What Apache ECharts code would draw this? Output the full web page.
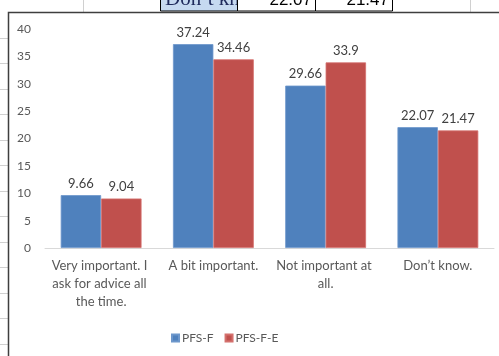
<!DOCTYPE html>
<html>
<head>
<meta charset="utf-8">
<script src="https://cdn.jsdelivr.net/npm/echarts@6/dist/echarts.min.js"></script>
<style>
  html, body { margin: 0; padding: 0; background: #fff; }
  #chart { width: 499px; height: 356px; }
</style>
</head>
<body>
<div id="chart"></div>
<script>
// Survey responses: how important is asking for advice
const categories = [
  'Very important. I ask for advice all the time.',
  'A bit important.',
  'Not important at all.',
  'Don\u2019t know.'
];
const seriesNames = ['PFS-F', 'PFS-F-E'];
const pfsF = [9.66, 37.24, 29.66, 22.07];
const pfsFE = [9.04, 34.46, 33.9, 21.47];
const yTicks = { min: 0, max: 40, step: 5 };

const FONT = 'Lato, "Open Sans", sans-serif';

// Worksheet cells peeking around the chart frame
const sheet = [];
const gridGray = '#d0d0d0';
for (let k = 1; k <= 13; k++) {
  const y = Math.round(12 + 25.5 * k) + 0.5;
  sheet.push({ type: 'line', shape: { x1: 0, y1: y, x2: 8, y2: y }, style: { stroke: gridGray, lineWidth: 1 }, silent: true });
}
[83.5, 470.5].forEach(x => {
  sheet.push({ type: 'line', shape: { x1: x, y1: 0, x2: x, y2: 12 }, style: { stroke: gridGray, lineWidth: 1 }, silent: true });
});
sheet.push({ type: 'rect', shape: { x: 160.5, y: -2, width: 77, height: 13 }, style: { fill: '#c6d9f0', stroke: '#000', lineWidth: 1 }, silent: true });
sheet.push({ type: 'rect', shape: { x: 237.5, y: -2, width: 78, height: 13 }, style: { fill: '#fff', stroke: '#000', lineWidth: 1 }, silent: true });
sheet.push({ type: 'rect', shape: { x: 315.5, y: -2, width: 77, height: 13 }, style: { fill: '#fff', stroke: '#000', lineWidth: 1 }, silent: true });
sheet.push({
  type: 'group', silent: true,
  clipPath: { type: 'rect', shape: { x: 161, y: 0, width: 76, height: 11 } },
  children: [{ type: 'text', x: 165, y: 10, style: { text: 'Don\u2019t know', font: '21px "Liberation Serif", serif', fill: '#1f2a5c', textVerticalAlign: 'bottom' } }]
});
sheet.push({ type: 'text', silent: true, x: 312, y: 9, style: { text: '22.07', font: '17px "Liberation Sans", sans-serif', fill: '#000', textAlign: 'right', textVerticalAlign: 'bottom' } });
sheet.push({ type: 'text', silent: true, x: 389, y: 9, style: { text: '21.47', font: '17px "Liberation Sans", sans-serif', fill: '#000', textAlign: 'right', textVerticalAlign: 'bottom' } });
// Chart frame edges
sheet.push({ type: 'polyline', silent: true, shape: { points: [[8.5, 356], [8.5, 12.5], [499, 12.5]] }, style: { stroke: '#3f3f3f', lineWidth: 1.5, fill: null } });

const labelStyle = {
  show: true, position: 'top', distance: 5,
  fontFamily: FONT, fontSize: 13, color: '#404040'
};

const chart = echarts.init(document.getElementById('chart'), null, { renderer: 'canvas' });
chart.setOption({
  animation: false,
  backgroundColor: '#ffffff',
  textStyle: { fontFamily: FONT },
  color: ['#4f81bd', '#c0504d'],
  grid: { left: 45, right: 5, top: 29, bottom: 108 },
  legend: {
    data: seriesNames,
    left: 166, top: 327,
    icon: 'rect', itemWidth: 7, itemHeight: 7, itemGap: 11,
    textStyle: { fontFamily: FONT, fontSize: 12, color: '#595959', padding: [0, 0, 0, -2] }
  },
  xAxis: {
    type: 'category',
    data: categories,
    axisLine: { lineStyle: { color: '#d9d9d9', width: 1 } },
    axisTick: { show: false },
    axisLabel: {
      interval: 0, margin: 9,
      fontFamily: FONT, fontSize: 13, color: '#595959',
      lineHeight: 18, width: 104, overflow: 'break', align: 'center'
    }
  },
  yAxis: {
    type: 'value',
    min: yTicks.min, max: yTicks.max, interval: yTicks.step,
    axisLine: { show: false },
    axisTick: { show: false },
    splitLine: { show: false },
    axisLabel: { margin: 14, fontFamily: FONT, fontSize: 12, color: '#595959' }
  },
  series: [
    {
      name: seriesNames[0], type: 'bar', data: pfsF,
      barGap: '0%', barCategoryGap: '28%',
      itemStyle: { color: '#4f81bd', borderColor: '#6d97cb', borderWidth: 0.8 },
      label: labelStyle
    },
    {
      name: seriesNames[1], type: 'bar', data: pfsFE,
      barGap: '0%', barCategoryGap: '28%',
      itemStyle: { color: '#c0504d', borderColor: '#d4706d', borderWidth: 0.8 },
      label: labelStyle
    }
  ],
  graphic: sheet
});
</script>
</body>
</html>
